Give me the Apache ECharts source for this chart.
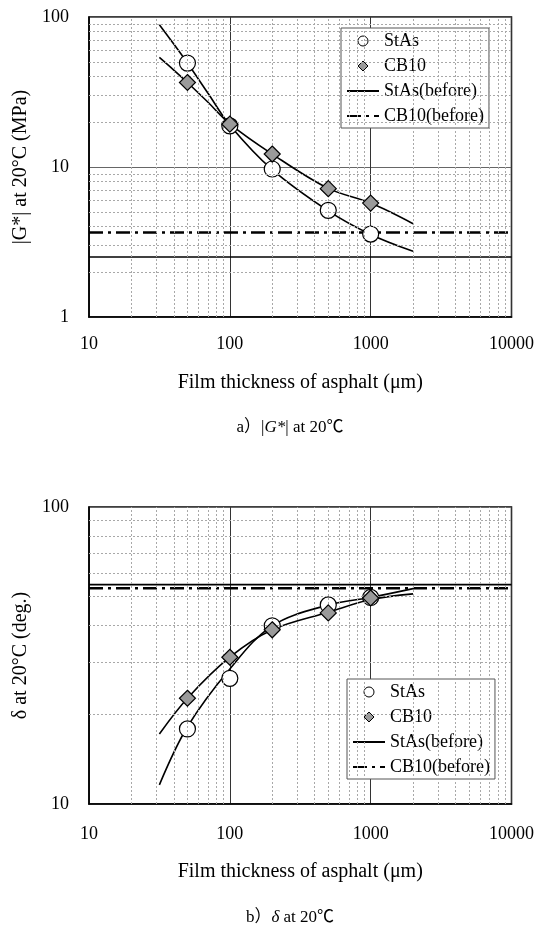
<!DOCTYPE html>
<html><head><meta charset="utf-8">
<script src="https://cdn.jsdelivr.net/npm/echarts@6/dist/echarts.min.js"></script>
<style>html,body{margin:0;padding:0;background:#fff}#c{width:537px;height:927px}</style>
</head><body><div id="c"></div>
<script>
// ---- shared x axis ----
const xRange = [10, 10000];
const xTickLabels = ['10', '100', '1000', '10000'];
const xMinorGrid = [20,30,40,50,60,70,80,90,200,300,400,500,600,700,800,900,2000,3000,4000,5000,6000,7000,8000,9000];
const thickness = [50, 100, 200, 500, 1000];
const legendNames = ['StAs', 'CB10', 'StAs(before)', 'CB10(before)'];

// ---- a) |G*| at 20°C ----
const gRange = [1, 100];
const gTickLabels = ['1', '10', '100'];
const gMinorGrid = [2,3,4,5,6,7,8,9,20,30,40,50,60,70,80,90];
const gStAs = [49.3, 18.8, 9.7, 5.14, 3.57];
const gCB10 = [36.6, 19.3, 12.2, 7.17, 5.75];
const gStAsBefore = 2.51;
const gCB10Before = 3.66;
const gFitX = [31.6, 40, 50, 70, 100, 200, 500, 1000, 2000];
const gStAsFit = [88.9, 66, 49.3, 31, 19.0, 9.6, 5.1, 3.55, 2.74];
const gCB10Fit = [53.8, 44.3, 36.6, 27, 19.4, 12.2, 7.2, 5.75, 4.19];

// ---- b) δ at 20°C ----
const dRange = [10, 100];
const dTickLabels = ['10', '100'];
const dMinorGrid = [20,30,40,50,60,70,80,90];
const dStAs = [17.9, 26.5, 39.8, 46.8, 49.6];
const dCB10 = [22.7, 31.2, 38.6, 44.0, 49.4];
const dStAsBefore = 54.8;
const dCB10Before = 53.3;
const dFitX = [31.6, 50, 100, 200, 500, 1000, 2000];
const dStAsFit = [11.6, 18.2, 28.5, 39.8, 46.8, 49.6, 53.1];
const dCB10Fit = [17.2, 22.7, 31.2, 38.6, 44.2, 48.8, 51.0];

const SERIF = "'Liberation Serif', 'Times New Roman', serif";
const CAPFONT = "'Liberation Serif', 'Noto Sans CJK JP', serif";
const DASHDOT = [14, 5, 3, 5];
const DIAMOND_ICON = 'path://M5,0L10,5L5,10L0,5Z';

const zip = (xs, ys) => xs.map((x, i) => [x, ys[i]]);
const tickFmt = (labels, base) => v => labels[Math.round(Math.log10(v / base))] || String(Math.round(v));

function xAxisOpt(gi, nameGap, margin) {
  return {
    type: 'log', logBase: 10, gridIndex: gi, min: xRange[0], max: xRange[1],
    name: 'Film thickness of asphalt (μm)', nameLocation: 'middle', nameGap: nameGap,
    nameTextStyle: { fontSize: 20, color: '#000', fontFamily: SERIF },
    axisLine: { show: true, lineStyle: { color: '#000', width: 1.5 } },
    axisTick: { show: false },
    axisLabel: { margin: margin, fontSize: 18, color: '#000', fontFamily: SERIF, formatter: tickFmt(xTickLabels, xRange[0]) },
    splitLine: { show: true, lineStyle: { color: '#333', width: 1 } }
  };
}
function yAxisOpt(gi, range, labels, name, nameGap) {
  return {
    type: 'log', logBase: 10, gridIndex: gi, min: range[0], max: range[1],
    name: name, nameLocation: 'middle', nameGap: nameGap,
    nameTextStyle: { fontSize: 20, color: '#000', fontFamily: SERIF },
    axisLine: { show: true, lineStyle: { color: '#000', width: 1.5 } },
    axisTick: { show: false },
    axisLabel: { margin: 20, fontSize: 18, color: '#000', fontFamily: SERIF, formatter: tickFmt(labels, range[0]) },
    splitLine: { show: true, lineStyle: { color: '#666', width: 1 } }
  };
}

function panelSeries(gi, yMinor, fitX, stFit, cbFit, st, cb, stBefore, cbBefore) {
  const ax = { xAxisIndex: gi, yAxisIndex: gi };
  return [
    Object.assign({
      type: 'line', name: 'minor' + gi, data: [], z: 1, silent: true,
      markLine: {
        silent: true, symbol: ['none', 'none'], label: { show: false }, animation: false,
        lineStyle: { color: '#a8a8a8', width: 1, type: [2, 2] },
        emphasis: { disabled: true },
        data: xMinorGrid.map(v => ({ xAxis: v })).concat(yMinor.map(v => ({ yAxis: v })))
      }
    }, ax),
    Object.assign({ type: 'line', name: 'StAs curve', data: zip(fitX, stFit), smooth: 0.35, symbol: 'none', z: 3,
      lineStyle: { color: '#000', width: 1.6 } }, ax),
    Object.assign({ type: 'line', name: 'CB10 curve', data: zip(fitX, cbFit), smooth: 0.35, symbol: 'none', z: 3,
      lineStyle: { color: '#000', width: 1.6 } }, ax),
    Object.assign({ type: 'line', name: 'StAs(before)', data: [[xRange[0], stBefore], [xRange[1], stBefore]], symbol: 'none', z: 3,
      itemStyle: { color: '#000' }, lineStyle: { color: '#000', width: 1.6 } }, ax),
    Object.assign({ type: 'line', name: 'CB10(before)', data: [[xRange[0], cbBefore], [xRange[1], cbBefore]], symbol: 'none', z: 3,
      itemStyle: { color: '#000' }, lineStyle: { color: '#000', width: 2.5, type: DASHDOT, cap: 'butt' } }, ax),
    Object.assign({ type: 'scatter', name: 'StAs', data: zip(thickness, st), symbol: 'circle', symbolSize: 16, z: 4,
      itemStyle: { color: '#fff', borderColor: '#000', borderWidth: 1.2, opacity: 1 } }, ax),
    Object.assign({ type: 'scatter', name: 'CB10', data: zip(thickness, cb), symbol: 'diamond', symbolSize: 16, z: 5,
      itemStyle: { color: '#9a9a9a', borderColor: '#000', borderWidth: 1.2, opacity: 1 } }, ax)
  ];
}

function legendOpt(left, top) {
  return {
    data: [
      { name: legendNames[0], icon: 'circle', itemStyle: { borderWidth: 1 } },
      { name: legendNames[1], icon: DIAMOND_ICON, itemStyle: { borderWidth: 1 } },
      { name: legendNames[2], itemStyle: { opacity: 0 } },
      { name: legendNames[3], itemStyle: { opacity: 0 } }
    ],
    orient: 'vertical', left: left, top: top, symbolKeepAspect: true,
    itemWidth: 32, itemHeight: 10, itemGap: 7, padding: [4, 5, 3, 5],
    backgroundColor: '#fff', borderColor: '#555', borderWidth: 1, borderRadius: 0,
    selectedMode: false,
    textStyle: { fontSize: 18, lineHeight: 18, color: '#000', fontFamily: SERIF }
  };
}

const chart = echarts.init(document.getElementById('c'), null, { renderer: 'canvas' });
chart.setOption({
  animation: false,
  backgroundColor: '#fff',
  textStyle: { fontFamily: SERIF },
  grid: [
    { left: 89, top: 17, width: 424, height: 300, show: true, borderColor: '#000', borderWidth: 1.5, backgroundColor: 'transparent' },
    { left: 89, top: 507, width: 426, height: 297, show: true, borderColor: '#000', borderWidth: 1.5, backgroundColor: 'transparent' }
  ],
  xAxis: [xAxisOpt(0, 56, 18), xAxisOpt(1, 58, 21)],
  yAxis: [
    yAxisOpt(0, gRange, gTickLabels, '|G*| at 20°C (MPa)', 45),
    yAxisOpt(1, dRange, dTickLabels, 'δ at 20°C (deg.)', 45)
  ],
  legend: [legendOpt(341, 28), legendOpt(347, 679)],
  series: panelSeries(0, gMinorGrid, gFitX, gStAsFit, gCB10Fit, gStAs, gCB10, gStAsBefore, gCB10Before)
    .concat(panelSeries(1, dMinorGrid, dFitX, dStAsFit, dCB10Fit, dStAs, dCB10, dStAsBefore, dCB10Before)),
  graphic: [
    { type: 'text', x: 290, y: 428, silent: true, style: {
      text: '{n|a）|}{i|G*}{n|| at 20℃}', align: 'center', verticalAlign: 'middle',
      rich: { n: { fontSize: 17, fontFamily: CAPFONT, fill: '#000' }, i: { fontSize: 17, fontFamily: SERIF, fontStyle: 'italic', fill: '#000' } } } },
    { type: 'text', x: 290, y: 918, silent: true, style: {
      text: '{n|b）}{i|δ}{n| at 20℃}', align: 'center', verticalAlign: 'middle',
      rich: { n: { fontSize: 17, fontFamily: CAPFONT, fill: '#000' }, i: { fontSize: 17, fontFamily: SERIF, fontStyle: 'italic', fill: '#000' } } } }
  ]
});
</script>
</body></html>
